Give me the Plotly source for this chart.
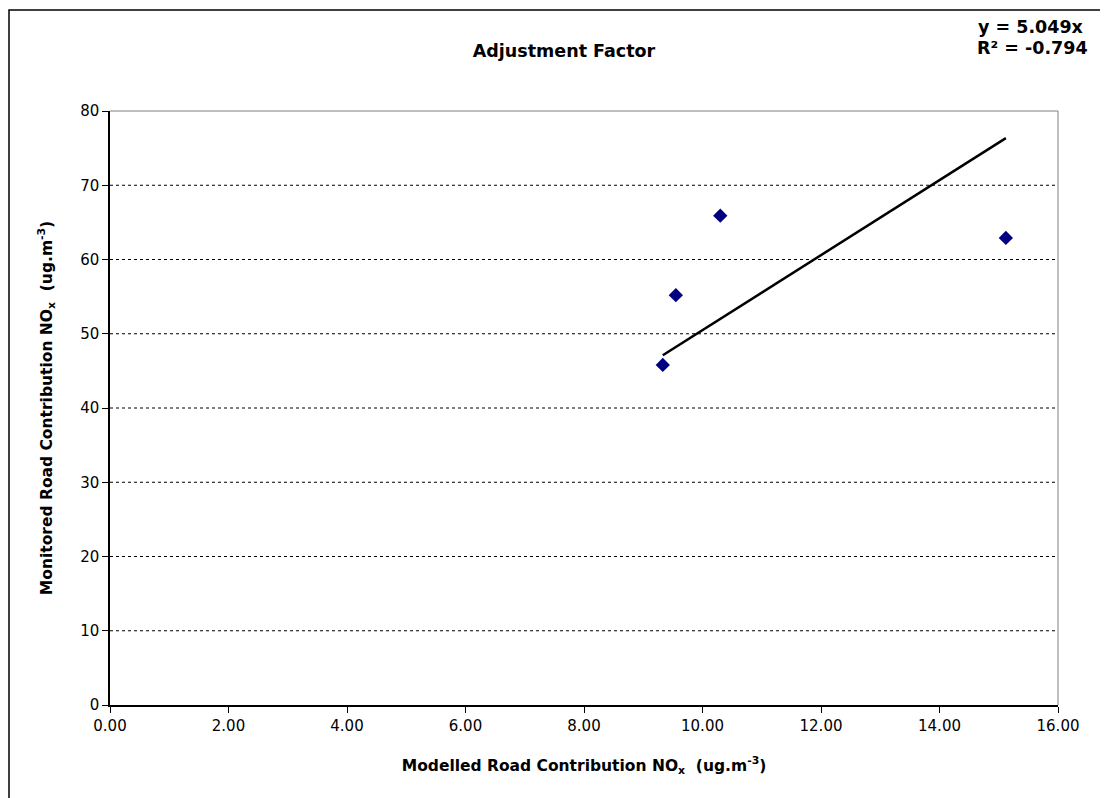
import plotly.graph_objects as go

modelled = [9.33, 9.55, 10.30, 15.12]
monitored = [45.8, 55.2, 65.9, 62.9]
slope = 5.049
r2_label = "-0.794"
x_ticks = [0, 2, 4, 6, 8, 10, 12, 14, 16]
y_ticks = [0, 10, 20, 30, 40, 50, 60, 70, 80]

font_family = "Tahoma, DejaVu Sans, sans-serif"

trend_x = [min(modelled), max(modelled)]
trend_y = [slope * v for v in trend_x]

fig = go.Figure()
fig.add_trace(go.Scatter(
    x=modelled, y=monitored, mode="markers",
    marker=dict(symbol="diamond", size=11, color="#000080"),
    showlegend=False, cliponaxis=False))
fig.add_trace(go.Scatter(
    x=trend_x, y=trend_y, mode="lines",
    line=dict(color="black", width=2.5),
    showlegend=False))

OFF = 8  # default page body margin
W, H = 1108, 798
L, T = 110 - OFF, 111 - OFF
pw, ph = 948, 594
R = W - L - pw
B = H - T - ph


def px(xp):
    return (xp - OFF - L) / pw


def py(yp):
    return (T + ph - (yp - OFF)) / ph


# outer chart border
fig.add_shape(type="rect", xref="paper", yref="paper",
              x0=px(9), x1=px(1125), y0=py(815), y1=py(10),
              line=dict(color="black", width=1.5), layer="below")

# dashed gridlines
for yv in y_ticks[1:-1]:
    fig.add_shape(type="line", xref="paper", yref="y", x0=0, x1=1, y0=yv, y1=yv,
                  line=dict(color="black", width=1, dash="dot"), layer="below")
# plot area top/right border
fig.add_shape(type="line", xref="paper", yref="paper", x0=0, x1=1, y0=1, y1=1,
              line=dict(color="#808080", width=1), layer="below")
fig.add_shape(type="line", xref="paper", yref="paper", x0=1, x1=1, y0=0, y1=1,
              line=dict(color="#808080", width=1), layer="below")

fig.update_layout(
    width=W, height=H,
    margin=dict(l=L, r=R, t=T, b=B),
    paper_bgcolor="white", plot_bgcolor="white",
    font=dict(family=font_family, size=15, color="black"),
    title=dict(text="<b>Adjustment Factor</b>", x=(564 - OFF) / W, xanchor="center",
               y=1 - (51 - OFF) / H, yanchor="middle", font=dict(size=17.5)),
    xaxis=dict(range=[0, 16], tickvals=x_ticks,
               ticktext=[f"{v:.2f}" for v in x_ticks],
               showgrid=False, zeroline=False, showline=True,
               linecolor="black", linewidth=1.5,
               ticks="outside", ticklen=6, tickcolor="black",
               tickfont=dict(size=15),
               title=dict(text="<b>Modelled Road Contribution NO<sub>x</sub>  (ug.m<sup>-3</sup>)</b>",
                          font=dict(size=15.5), standoff=26)),
    yaxis=dict(range=[0, 80], tickvals=y_ticks,
               showgrid=False, zeroline=False, showline=True,
               linecolor="black", linewidth=1.5,
               ticks="outside", ticklen=6, tickcolor="black",
               tickfont=dict(size=15),
               title=dict(text="<b>Monitored Road Contribution NO<sub>x</sub>  (ug.m<sup>-3</sup>)</b>",
                          font=dict(size=15.5), standoff=24)),
)

fig.add_annotation(xref="paper", yref="paper", x=px(1086), y=py(27),
                   xanchor="right", yanchor="middle", showarrow=False,
                   text=f"<b>y = {slope}x</b>", font=dict(size=17.5))
fig.add_annotation(xref="paper", yref="paper", x=px(1090), y=py(48),
                   xanchor="right", yanchor="middle", showarrow=False,
                   text=f"<b>R² = {r2_label}</b>", font=dict(size=17.5))

fig.write_html("out.html")
